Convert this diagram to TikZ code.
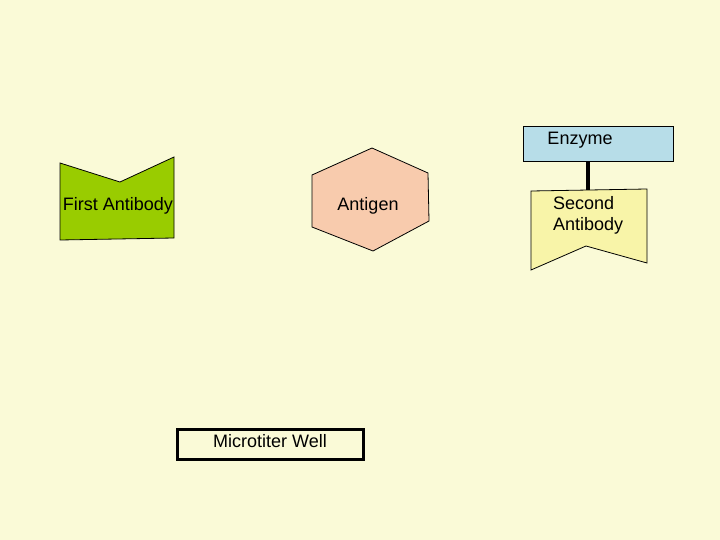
\documentclass[tikz,border=0pt]{standalone}
\usepackage{fontspec}
\setmainfont{Liberation Sans}
\definecolor{bg}{HTML}{FAFAD7}
\definecolor{abgreen}{HTML}{99CC00}
\definecolor{peach}{HTML}{F8CBAD}
\definecolor{enzblue}{HTML}{B7DDE8}
\definecolor{ab2}{HTML}{F8F4A8}
\tikzset{
  shapeline/.style={draw=black, line width=0.8pt, line join=miter},
  lbl/.style={font=\fontsize{18}{21}\selectfont, inner sep=0pt},
}
\begin{document}
\begin{tikzpicture}[x=1pt,y=-1pt]
\useasboundingbox[fill=bg] (0,0) rectangle (720,540);
% First antibody
\filldraw[shapeline, fill=abgreen] (60,163) -- (120,182) -- (174,157) -- (174,238) -- (60,240) -- cycle;
\node[lbl] (fab) at (118,205.5) {First Antibody};
% Antigen
\filldraw[shapeline, fill=peach] (372,148) -- (428,173) -- (429,221) -- (373,251) -- (312,227) -- (312,175) -- cycle;
\node[lbl] (ag) at (368,205.5) {Antigen};
% Enzyme
\node[draw=black, line width=0.8pt, fill=enzblue, minimum width=150pt, minimum height=35pt, inner sep=0pt, anchor=north west] (enz) at (523,126) {};
\node[lbl] (enztxt) at (580,140.5) {Enzyme};
% Second antibody
\filldraw[shapeline, fill=ab2] (531,191) -- (647,189) -- (647,263) -- (586,246) -- (531,270) -- cycle;
\coordinate (ab2top) at (588,190);
\node[lbl, align=left, anchor=west] (sab) at (553,215.5) {Second\\Antibody};
\draw[line width=3.5pt] (enz.south -| ab2top) -- (ab2top);
% Microtiter well
\node[draw=black, line width=2.8pt, fill=bg, minimum width=186pt, minimum height=30pt, inner sep=0pt, anchor=north west] (well) at (176,428) {};
\node[lbl] (welltxt) at (270,441.5) {Microtiter Well};
\end{tikzpicture}
\end{document}
